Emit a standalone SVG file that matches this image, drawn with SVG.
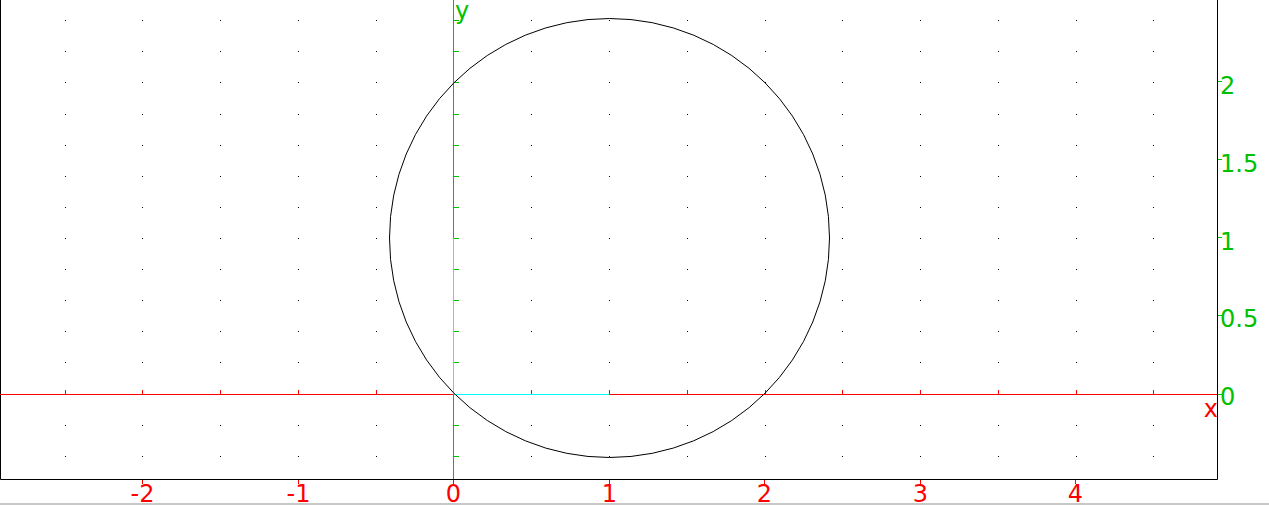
<svg xmlns="http://www.w3.org/2000/svg" xmlns:xlink="http://www.w3.org/1999/xlink" width="1269" height="505" viewBox="0 0 1269 505">
<style>
.lbl{font-family:"DejaVu Sans",sans-serif;font-size:24px}
.red{fill:#ff0000}
.grn{fill:#00c000}
.ax{fill:none;stroke-width:1}
</style>
<defs>
<path id="row" fill="#000" d="M65 0h1v1h-1zM142 0h1v1h-1zM220 0h1v1h-1zM298 0h1v1h-1zM376 0h1v1h-1zM531 0h1v1h-1zM609 0h1v1h-1zM687 0h1v1h-1zM765 0h1v1h-1zM842 0h1v1h-1zM920 0h1v1h-1zM998 0h1v1h-1zM1076 0h1v1h-1zM1153 0h1v1h-1z"/>
</defs>
<rect width="1269" height="505" fill="#fff"/>
<g id="grid">
<use xlink:href="#row" y="20"/>
<use xlink:href="#row" y="51"/>
<use xlink:href="#row" y="82"/>
<use xlink:href="#row" y="114"/>
<use xlink:href="#row" y="145"/>
<use xlink:href="#row" y="176"/>
<use xlink:href="#row" y="207"/>
<use xlink:href="#row" y="238"/>
<use xlink:href="#row" y="269"/>
<use xlink:href="#row" y="300"/>
<use xlink:href="#row" y="331"/>
<use xlink:href="#row" y="362"/>
<use xlink:href="#row" y="425"/>
<use xlink:href="#row" y="456"/>
</g>
<g id="frame" class="ax" stroke="#000">
<path d="M0.5 0V479.5H1217.5V0"/>
</g>
<rect x="0" y="503" width="1269" height="2" fill="#c8c8c8"/>
<g id="x-axis" class="ax" stroke="#ff0000">
<path d="M0 394.5H1217"/>
<path d="M65.5 390v4M142.5 390v4M220.5 390v4M298.5 390v4M376.5 390v4M531.5 390v4M609.5 390v4M687.5 390v4M765.5 390v4M842.5 390v4M920.5 390v4M998.5 390v4M1076.5 390v4M1153.5 390v4"/>
<path d="M142.5 480v4M298.5 480v4M453.5 480v4M609.5 480v4M764.5 480v4M920.5 480v4M1075.5 480v4"/>
</g>
<g id="y-axis" class="ax" stroke="#00c000">
<path d="M453.5 0V479"/>
<path d="M454 20.5h5M454 51.5h5M454 82.5h5M454 114.5h5M454 145.5h5M454 176.5h5M454 207.5h5M454 238.5h5M454 269.5h5M454 300.5h5M454 331.5h5M454 362.5h5M454 425.5h5M454 456.5h5"/>
<path d="M1218 81.5h4M1218 159.5h4M1218 237.5h4M1218 315.5h4M1218 394.5h4"/>
</g>
<g id="segments" class="ax" stroke="#00ffff">
<path d="M454 394.5H609.5"/>
<path d="M453.5 238V394"/>
</g>
<g id="circle">
<ellipse cx="609.5" cy="238" rx="220" ry="219.5" fill="none" stroke="#000" stroke-width="1"/>
</g>
<g id="labels" class="lbl">
<text class="grn" x="455" y="19">y</text>
<text class="red" x="1218" y="417" text-anchor="end">x</text>
<text class="grn" x="1220" y="94">2</text>
<text class="grn" x="1220" y="172">1.5</text>
<text class="grn" x="1220" y="250">1</text>
<text class="grn" x="1220" y="327">0.5</text>
<text class="grn" x="1220" y="405">0</text>
<g text-anchor="middle">
<text class="red" x="142.5" y="502">-2</text>
<text class="red" x="298.5" y="502">-1</text>
<text class="red" x="453.5" y="502">0</text>
<text class="red" x="609.5" y="502">1</text>
<text class="red" x="764.5" y="502">2</text>
<text class="red" x="920.5" y="502">3</text>
<text class="red" x="1075.5" y="502">4</text>
</g>
</g>
</svg>
